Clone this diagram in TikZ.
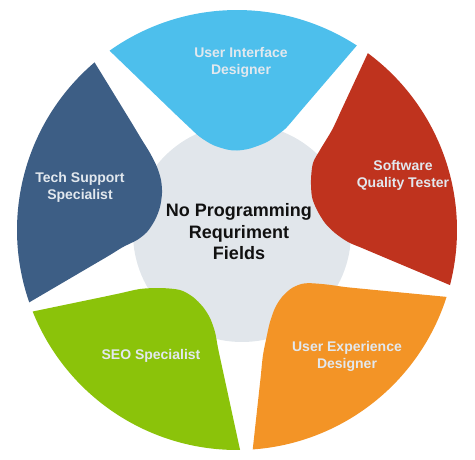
\documentclass[tikz,border=0pt]{standalone}
\usepackage{fontspec}
\setmainfont{Liberation Sans}
\definecolor{uiblue}{HTML}{4DBFEC}
\definecolor{sqred}{HTML}{BF331E}
\definecolor{uxorange}{HTML}{F39426}
\definecolor{seogreen}{HTML}{8BC30A}
\definecolor{techblue}{HTML}{3D5E85}
\definecolor{hubgray}{HTML}{E1E6EB}
\definecolor{labelgray}{HTML}{E2E8EE}
\definecolor{hubink}{HTML}{111111}
\begin{document}
\begin{tikzpicture}[x=1pt,y=1pt,
  petaltext/.style={text=labelgray, font=\bfseries\fontsize{14}{17}\selectfont, align=center},
  hubtext/.style={text=hubink, font=\bfseries\fontsize{18}{21.5}\selectfont, align=center}]
\useasboundingbox (0,0) rectangle (475,-459);
\coordinate (O) at (237,-230);

% central disc
\fill[hubgray] (242,-233) circle[radius=109];

% petals: outer arc on the ring, straight flanks, rounded inner tip
\fill[uiblue] ([shift={(57:220)}]O) arc[start angle=57,end angle=125.4,radius=220]
  -- plot[smooth] coordinates {(175,-113.8) (190,-128) (200,-137) (213,-145) (227,-149.5)
     (237,-150.5) (250,-148.5) (267,-142) (280,-133) (287,-127) (300,-111.8)} -- cycle;

\fill[sqred] ([shift={(-14.5:220)}]O) arc[start angle=-14.5,end angle=53.5,radius=220]
  -- plot[smooth] coordinates {(340,-113) (332,-130) (320,-150) (313,-163) (311,-180)
     (312,-197) (317,-210) (325,-223) (335,-233) (348,-242) (362,-248) (380,-255.6)} -- cycle;

\fill[uxorange] ([shift={(-85.9:220)}]O) arc[start angle=-85.9,end angle=-17.7,radius=220]
  -- plot[smooth] coordinates {(365,-289) (345,-287) (325,-284.3) (305,-283.3) (292,-288)
     (282,-297) (275,-308) (270,-322) (267,-335) (263,-355) (261,-374)} -- cycle;

\fill[seogreen] ([shift={(201.75:220)}]O) arc[start angle=201.75,end angle=270.8,radius=220]
  -- plot[smooth] coordinates {(221,-362) (218,-348) (215,-332) (210,-318) (203,-307)
     (193,-297) (180,-290) (160,-288) (140,-289) (120,-293.3) (105,-296.5)} -- cycle;

\fill[techblue] ([shift={(130.35:220)}]O) arc[start angle=130.35,end angle=199.2,radius=220]
  -- plot[smooth] coordinates {(95,-263.8) (110,-255) (123,-247) (137,-240) (147,-232)
     (155,-220) (160,-207) (162,-193) (161,-180) (157,-167) (150,-153) (142,-140) (133,-125)} -- cycle;

% labels
\node[petaltext] (ui) at (241,-62) {User Interface\\Designer};
\node[petaltext] (sqt) at (403,-175) {Software\\Quality Tester};
\node[petaltext] (tss) at (80,-187) {Tech Support\\Specialist};
\node[petaltext] (seo) at (151,-356) {SEO Specialist};
\node[petaltext] (ux) at (347,-356) {User Experience\\Designer};
\node[hubtext] (hub) at (239,-232) {No Programming\\Requriment\\Fields};
\end{tikzpicture}
\end{document}
